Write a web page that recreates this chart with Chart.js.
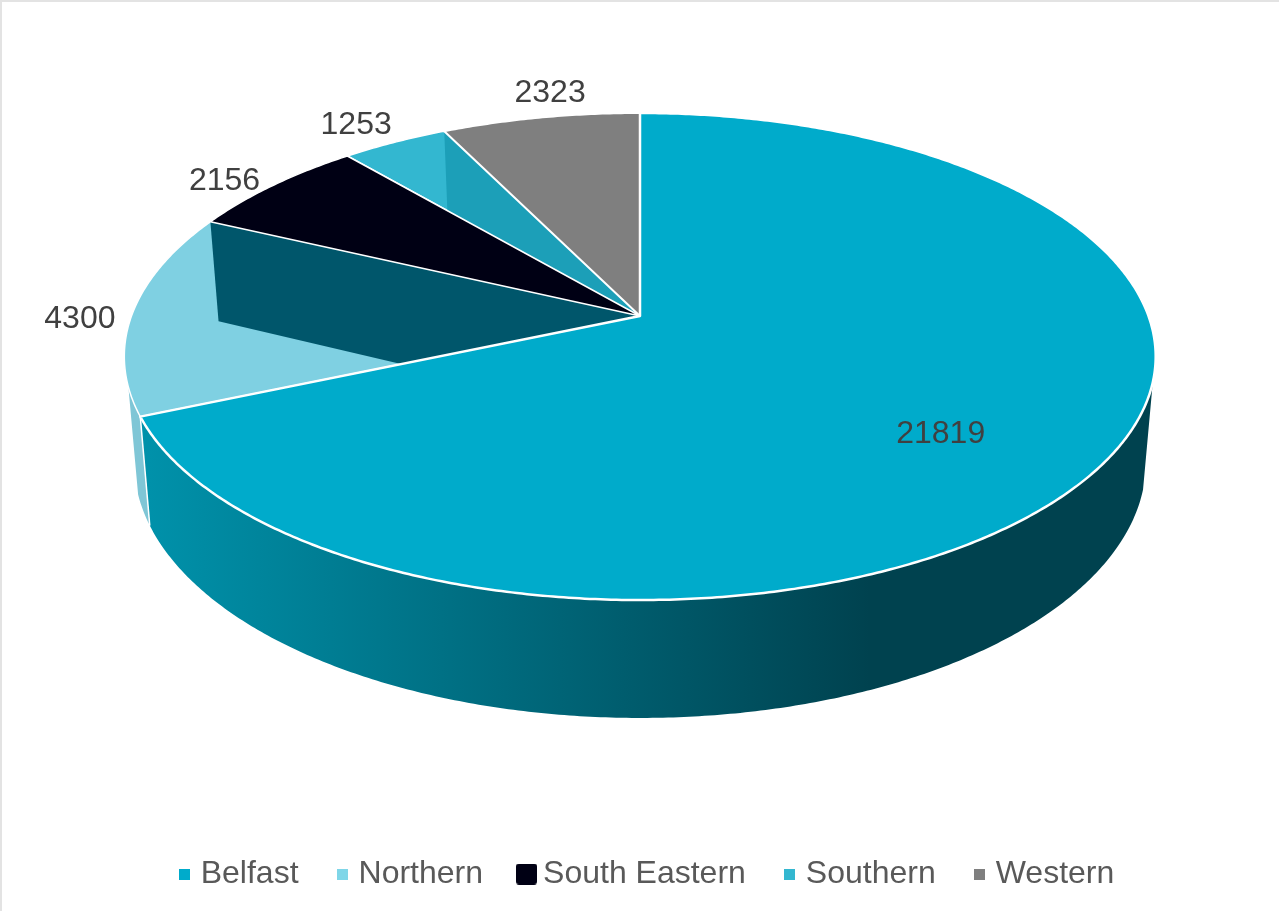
<!DOCTYPE html>
<html>
<head>
<meta charset="utf-8">
<script src="https://cdn.jsdelivr.net/npm/chart.js@4"></script>
<style>
html,body{margin:0;padding:0;background:#fff;overflow:hidden}
#frame{position:absolute;left:0;top:0;width:1279px;height:911px;box-sizing:border-box;border-left:2px solid #e3e3e3;border-top:2px solid #e3e3e3}
canvas{position:absolute;left:0;top:0;display:block}
</style>
</head>
<body>
<div id="frame"></div>
<canvas id="c" width="1279" height="911"></canvas>
<script>
const categories = ['Belfast', 'Northern', 'South Eastern', 'Southern', 'Western'];
const values = [21819, 4300, 2156, 1253, 2323];
const sliceColors = ['#00ABCB', '#7FD0E2', '#000014', '#33B7D0', '#7F7F7F'];
const legendBoxSizes = [11, 11, 21, 11, 11];
const legendColors = ['#00ABCB', '#7FD6E8', '#000014', '#33B7D0', '#7F7F7F'];
const labelShiftX = [-167, -53, -48.6, -38.5, 9.5];
const labelShiftY = [-25, 7, -4, -17, -24.5];

// Perspective model of the pie's disc
const CX = 640, CY = 316, SCALE_X = 508.5, SCALE_Y = 236.8, PERSP = 0.1663;
const DEPTH_CY = 420, DEPTH_SX = 0.981, DEPTH_SY = 1.049;
const SIDE_START = 105.5;     // right silhouette of the side wall, degrees clockwise from top
const NORTH_SIDE_END = 253.4; // left silhouette

function rimTop(deg) {
  const t = deg * Math.PI / 180, u = Math.sin(t), v = -Math.cos(t), w = 1 - PERSP * v;
  return { x: CX + SCALE_X * u / w, y: CY + SCALE_Y * v / w };
}
function rimLow(deg) {
  const p = rimTop(deg);
  return { x: CX + DEPTH_SX * (p.x - CX), y: DEPTH_CY + DEPTH_SY * (p.y - CY) };
}
function rim(ctx, fn, a, b) {
  const n = Math.max(2, Math.ceil(Math.abs(b - a) * 2));
  for (let i = 0; i <= n; i++) {
    const p = fn(a + (b - a) * i / n);
    ctx.lineTo(p.x, p.y);
  }
}
function side(ctx, a, b, fill) {
  ctx.beginPath();
  rim(ctx, rimTop, a, b);
  rim(ctx, rimLow, b, a);
  ctx.closePath();
  ctx.fillStyle = fill;
  ctx.fill();
}
function wall(ctx, deg, fill) {
  const t = rimTop(deg), l = rimLow(deg);
  ctx.beginPath();
  ctx.moveTo(t.x, t.y);
  ctx.lineTo(l.x, l.y);
  ctx.lineTo(CX, DEPTH_CY);
  ctx.lineTo(CX, CY);
  ctx.closePath();
  ctx.fillStyle = fill;
  ctx.fill();
}
function face(ctx, a, b, fill, lw) {
  ctx.beginPath();
  ctx.moveTo(CX, CY);
  rim(ctx, rimTop, a, b);
  ctx.closePath();
  ctx.fillStyle = fill;
  ctx.fill();
  ctx.strokeStyle = '#fff';
  ctx.lineWidth = lw;
  ctx.lineJoin = 'round';
  ctx.stroke();
}
function boxCanvas(size, color) {
  const cv = document.createElement('canvas');
  cv.width = size; cv.height = size;
  const g = cv.getContext('2d');
  g.fillStyle = color;
  g.beginPath();
  g.roundRect(0, 0, size, size, size > 15 ? 3 : 0);
  g.fill();
  return cv;
}

const pie3d = {
  id: 'pie3d',
  beforeDatasetDraw(chart, args) {
    const ctx = chart.ctx;
    const arcs = chart.getDatasetMeta(args.index).data;
    const ang = arcs.map(a => {
      const s = a.getProps(['startAngle', 'endAngle'], true);
      return [(s.startAngle + Math.PI / 2) * 180 / Math.PI, (s.endAngle + Math.PI / 2) * 180 / Math.PI];
    });
    const colors = chart.data.datasets[args.index].backgroundColor;
    ctx.save();
    // outer side wall
    const grad = ctx.createLinearGradient(140, 0, 870, 0);
    grad.addColorStop(0, '#0092AB');
    grad.addColorStop(1, '#00424F');
    side(ctx, SIDE_START, ang[0][1], grad);
    side(ctx, ang[1][0], NORTH_SIDE_END, '#7FC6D6');
    const a = rimTop(ang[0][1]), b = rimLow(ang[0][1]);
    ctx.beginPath(); ctx.moveTo(a.x, a.y); ctx.lineTo(b.x, b.y);
    ctx.strokeStyle = '#fff'; ctx.lineWidth = 1.5; ctx.stroke();
    // faces and the inner walls seen through them
    face(ctx, ang[1][0], ang[1][1], colors[1], 1.5);
    face(ctx, ang[3][0], ang[3][1], colors[3], 1.5);
    wall(ctx, ang[4][0], '#1C9FB8');
    wall(ctx, ang[2][0], '#00566B');
    face(ctx, ang[2][0], ang[2][1], colors[2], 1.5);
    face(ctx, ang[4][0], ang[4][1], colors[4], 2);
    face(ctx, ang[0][0], ang[0][1], colors[0], 2.5);
    // data labels
    ctx.font = '32px "Liberation Sans"';
    ctx.fillStyle = '#404040';
    ctx.textAlign = 'center';
    ctx.textBaseline = 'middle';
    ang.forEach((r, i) => {
      const p = rimTop((r[0] + r[1]) / 2);
      ctx.fillText(String(values[i]), p.x + labelShiftX[i], p.y + labelShiftY[i]);
    });
    ctx.restore();
    return false;
  }
};

new Chart(document.getElementById('c'), {
  type: 'pie',
  data: {
    labels: categories,
    datasets: [{ data: values, backgroundColor: sliceColors, borderColor: '#fff', borderWidth: 2 }]
  },
  options: {
    responsive: false,
    animation: false,
    rotation: 0,
    layout: { padding: { left: 19, right: 0, top: 0, bottom: 11 } },
    plugins: {
      tooltip: { enabled: false },
      title: { display: false },
      legend: {
        display: true,
        position: 'bottom',
        align: 'center',
        labels: {
          font: { family: '"Liberation Sans"', size: 32 },
          color: '#595959',
          padding: 43,
          usePointStyle: true,
          pointStyleWidth: 1,
          generateLabels(chart) {
            return chart.data.labels.map((t, i) => ({
              text: t,
              fillStyle: legendColors[i],
              strokeStyle: legendColors[i],
              lineWidth: 0,
              fontColor: '#595959',
              pointStyle: boxCanvas(legendBoxSizes[i], legendColors[i]),
              hidden: false,
              index: i
            }));
          }
        }
      }
    }
  },
  plugins: [pie3d]
});
</script>
</body>
</html>
